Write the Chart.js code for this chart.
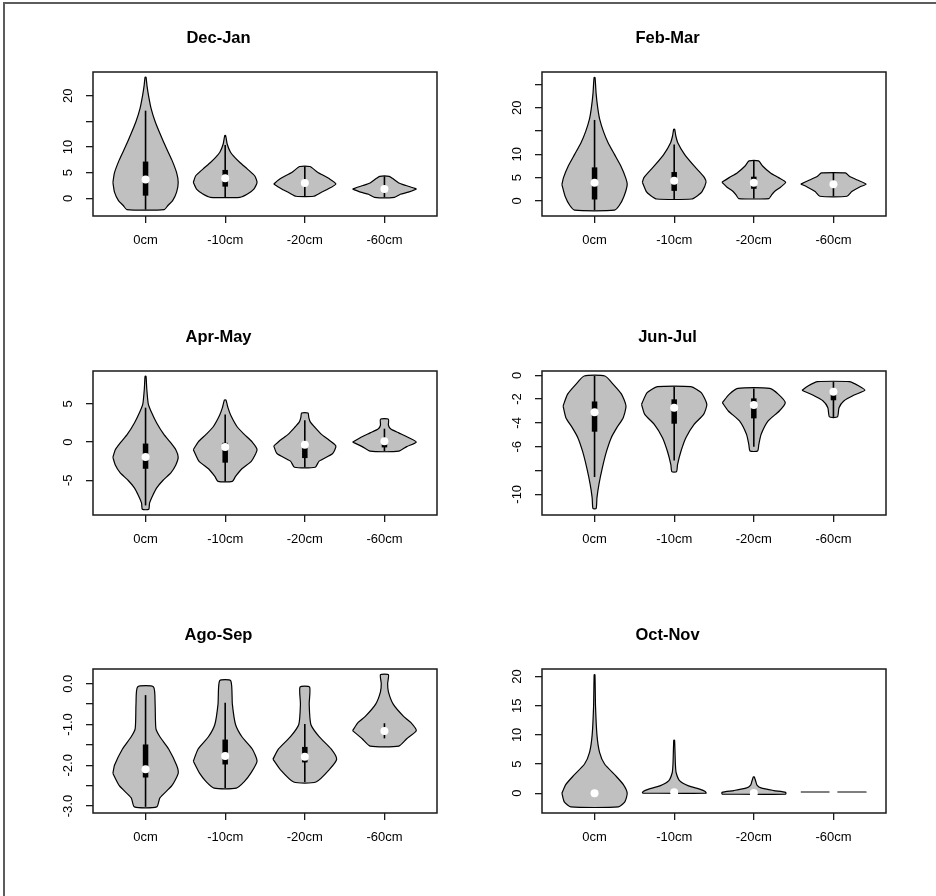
<!DOCTYPE html>
<html>
<head>
<meta charset="utf-8">
<script src="https://cdn.jsdelivr.net/npm/chart.js@4.4.1/dist/chart.umd.min.js"></script>
<style>
  html, body { margin: 0; padding: 0; background: #fff; }
  #page { position: relative; width: 936px; height: 896px; overflow: hidden; }
  #page .edge {
    position: absolute; left: 3px; top: 2px; right: 0; bottom: 0;
    border-top: 2px solid #5c5c5c; border-left: 2px solid #5c5c5c;
  }
  #page canvas { position: absolute; }
</style>
</head>
<body>
<div id="page"><div class="edge"></div></div>
<script>
const panelTitles = ['Dec-Jan', 'Feb-Mar', 'Apr-May', 'Jun-Jul', 'Ago-Sep', 'Oct-Nov'];
const depthLabels = ['0cm', '-10cm', '-20cm', '-60cm'];

// y axis limits and ticks for each panel
const yLimits = [[-3.45, 24.65], [-3.25, 27.7], [-9.55, 9.3], [-11.74, 0.36], [-3.17, 0.36], [-3.4, 21.3]];
const yTicks = [
    [0, 5, 10, 15, 20],
    [0, 5, 10, 15, 20, 25],
    [-5, 0, 5],
    [-10, -8, -6, -4, -2, 0],
    [-3, -2.5, -2, -1.5, -1, -0.5, 0],
    [0, 5, 10, 15, 20]
];
const yTickLabels = [
    ['0', '5', '10', '', '20'],
    ['0', '5', '10', '', '20', ''],
    ['-5', '0', '5'],
    ['-10', '', '-6', '-4', '-2', '0'],
    ['-3.0', '', '-2.0', '', '-1.0', '', '0.0'],
    ['0', '5', '10', '15', '20']
];

// box plot summary per panel, one value per depth
const medians = [
    [3.65, 3.9, 3.0, 1.8],
    [3.9, 4.3, 3.9, 3.6],
    [-1.97, -0.65, -0.34, 0.1],
    [-3.1, -2.72, -2.5, -1.38],
    [-2.1, -1.77, -1.79, -1.16],
    [0, 0.15, 0.05, 0.2]
];
const boxLow = [
    [0.52, 2.28, 2.5, 1.5],
    [0.3, 2.15, 2.6, 3.1],
    [-3.5, -2.7, -2.1, -0.7],
    [-4.74, -4.07, -3.62, -2.1],
    [-2.3, -1.98, -1.93, -1.22],
    [0, 0.15, 0.05, 0.2]
];
const boxHigh = [
    [7.17, 5.54, 3.5, 2.1],
    [7.2, 6.2, 5.2, 4.1],
    [-0.2, -0.1, -0.25, 0.3],
    [-2.2, -2.02, -1.94, -1.3],
    [-1.49, -1.37, -1.55, -1.1],
    [0, 0.15, 0.05, 0.2]
];
const whiskerLow = [
    [-2.2, 0.2, 0.4, 0.2],
    [-2.0, 0.4, 0.5, 1.0],
    [-8.3, -5.15, -3.3, -1.2],
    [-8.55, -7.15, -6.0, -3.5],
    [-3.02, -2.56, -2.41, -1.34],
    [0, 0.15, 0.05, 0.2]
];
const whiskerHigh = [
    [17.1, 10.4, 6.2, 4.3],
    [17.4, 12.1, 8.6, 6.0],
    [4.5, 3.6, 2.85, 1.75],
    [-0.06, -0.96, -1.1, -0.54],
    [-0.28, -0.47, -0.99, -0.97],
    [0, 0.15, 0.05, 0.2]
];

// density outlines: [value, half width] from bottom to top
const violinProfiles = [
    [ // Dec-Jan
        [[-2.2, 0.235], [-1.4, 0.28], [-0.45, 0.34], [1.2, 0.39], [3.1, 0.41], [5, 0.39], [7.5, 0.33], [10, 0.255], [12.5, 0.185], [15, 0.12], [17.5, 0.07], [20, 0.038], [22, 0.018], [23.65, 0.006]],
        [[0.2, 0.185], [0.85, 0.28], [1.8, 0.36], [3.1, 0.40], [4.4, 0.37], [5.7, 0.28], [7, 0.185], [8, 0.12], [9, 0.067], [10.6, 0.025], [12.25, 0.006]],
        [[0.4, 0.11], [1.1, 0.2], [1.8, 0.29], [2.8, 0.39], [3.8, 0.31], [5.1, 0.16], [6.2, 0.063]],
        [[0.2, 0.126], [0.8, 0.2], [1.2, 0.3], [1.8, 0.40], [2.2, 0.33], [2.5, 0.27], [3.0, 0.18], [3.9, 0.1], [4.3, 0.06]]
    ],
    [ // Feb-Mar
        [[-2, 0.25], [-1, 0.31], [1, 0.37], [3.5, 0.41], [5, 0.39], [7.5, 0.33], [10, 0.25], [12.5, 0.17], [15, 0.11], [17.5, 0.065], [20, 0.04], [23, 0.02], [26.5, 0.006]],
        [[0.4, 0.22], [1.2, 0.30], [2, 0.35], [4, 0.40], [5, 0.38], [6, 0.33], [7.5, 0.25], [10, 0.13], [12.5, 0.045], [14, 0.02], [15.4, 0.006]],
        [[0.5, 0.19], [1.2, 0.22], [2, 0.26], [3, 0.34], [4, 0.40], [5, 0.31], [6, 0.21], [7.5, 0.11], [8.6, 0.06]],
        [[1.0, 0.17], [2, 0.23], [3, 0.33], [3.6, 0.41], [4.5, 0.30], [5.3, 0.2], [6.0, 0.15]]
    ],
    [ // Apr-May
        [[-8.8, 0.04], [-8, 0.05], [-7, 0.09], [-6, 0.14], [-5, 0.22], [-4, 0.32], [-3, 0.38], [-2, 0.41], [-1, 0.38], [0, 0.31], [1, 0.23], [2.5, 0.14], [4, 0.07], [5, 0.034], [7, 0.015], [8.6, 0.006]],
        [[-5.15, 0.09], [-4.5, 0.13], [-3.5, 0.21], [-2.5, 0.33], [-1, 0.40], [0, 0.34], [1, 0.24], [2, 0.15], [3.5, 0.07], [4.5, 0.035], [5.5, 0.01]],
        [[-3.3, 0.13], [-2.5, 0.18], [-1.5, 0.35], [-0.5, 0.39], [0.3, 0.3], [1, 0.21], [2, 0.12], [2.6, 0.07], [3.2, 0.05], [3.8, 0.04]],
        [[-1.2, 0.18], [-0.6, 0.28], [0, 0.40], [0.6, 0.3], [1.2, 0.18], [1.7, 0.08], [2.2, 0.05], [3.0, 0.05]]
    ],
    [ // Jun-Jul
        [[-11.2, 0.02], [-10.3, 0.03], [-9.16, 0.055], [-7.8, 0.097], [-6.4, 0.15], [-5.24, 0.21], [-4.4, 0.28], [-3.56, 0.36], [-2.58, 0.395], [-1.6, 0.34], [-0.76, 0.235], [-0.06, 0.13]],
        [[-8.1, 0.03], [-7.5, 0.042], [-6.4, 0.084], [-5.24, 0.147], [-4.12, 0.25], [-3.28, 0.37], [-2.44, 0.41], [-1.46, 0.34], [-0.96, 0.21]],
        [[-6.36, 0.048], [-5.8, 0.063], [-4.96, 0.092], [-3.84, 0.18], [-3.0, 0.32], [-2.3, 0.395], [-1.6, 0.31], [-1.1, 0.2]],
        [[-3.5, 0.05], [-2.72, 0.07], [-2.16, 0.13], [-1.66, 0.26], [-1.26, 0.395], [-0.9, 0.32], [-0.54, 0.2]]
    ],
    [ // Ago-Sep
        [[-3.02, 0.14], [-2.8, 0.18], [-2.5, 0.33], [-2.2, 0.41], [-2.0, 0.39], [-1.6, 0.29], [-1.3, 0.18], [-1.1, 0.13], [-0.5, 0.12], [-0.08, 0.10]],
        [[-2.56, 0.14], [-2.4, 0.24], [-2.2, 0.32], [-1.9, 0.40], [-1.6, 0.34], [-1.3, 0.21], [-1.0, 0.13], [-0.5, 0.09], [0.07, 0.07]],
        [[-2.41, 0.14], [-2.1, 0.31], [-1.85, 0.40], [-1.6, 0.33], [-1.3, 0.18], [-1.0, 0.076], [-0.5, 0.055], [-0.08, 0.06]],
        [[-1.53, 0.18], [-1.35, 0.28], [-1.15, 0.40], [-0.95, 0.33], [-0.8, 0.24], [-0.5, 0.11], [-0.2, 0.05], [0, 0.04], [0.22, 0.05]]
    ],
    [ // Oct-Nov
        [[-2.35, 0.30], [-1.5, 0.38], [0, 0.41], [1.5, 0.36], [3, 0.265], [5, 0.126], [7, 0.063], [10, 0.03], [15, 0.012], [20.3, 0.005]],
        [[0, 0.40], [0.3, 0.39], [0.7, 0.32], [1.25, 0.18], [2.1, 0.07], [3.5, 0.025], [5, 0.015], [9.1, 0.005]],
        [[-0.17, 0.40], [0.15, 0.40], [0.45, 0.25], [0.9, 0.09], [1.4, 0.04], [2, 0.025], [2.8, 0.006]],
        [[0.2, 0.41], [0.2, 0.41]]
    ]
];

const FONT = '"Liberation Sans", Arial, Helvetica, sans-serif';
const VIOLIN_FILL = '#c0c0c0';
const INK = '#1a1a1a';
const CURVE_TENSION = 0.2;
const CANVAS_W = 449, CANVAS_H = 298;
const rowTops = [0, 299, 597];

function widestIndex(profile) {
    let m = 0;
    profile.forEach(([, w], i) => { if (w > profile[m][1]) m = i; });
    return m;
}

// closed loop starting and ending at the widest left point:
// up the left side, down the right side, back up the left side
function outlinePath(profile, c) {
    const left = profile.map(([v, w]) => ({x: c - w, y: v}));
    const right = profile.map(([v, w]) => ({x: c + w, y: v}));
    const m = widestIndex(profile);
    return [...left.slice(m), ...right.slice().reverse(), ...left.slice(0, m + 1)];
}

// same loop plus a hop to the widest right point, so the filler's
// x clip spans the whole violin (repeated point keeps the curve identical)
function fillPath(profile, c) {
    const loop = outlinePath(profile, c);
    const m = widestIndex(profile);
    const [v, w] = profile[m];
    return [...loop, loop[loop.length - 1], {x: c + w, y: v}];
}

// frame around the plot region and rotated y tick labels
const framePlugin = {
    id: 'frameAndLabels',
    afterDraw(chart, args, opts) {
        const {ctx, chartArea} = chart;
        const yScale = chart.scales.y;
        ctx.save();
        ctx.strokeStyle = INK;
        ctx.lineWidth = 1.5;
        ctx.strokeRect(chartArea.left, chartArea.top, chartArea.right - chartArea.left, chartArea.bottom - chartArea.top);

        ctx.fillStyle = '#000';
        ctx.font = '13px ' + FONT;
        ctx.textAlign = 'center';
        ctx.textBaseline = 'middle';
        opts.values.forEach((v, i) => {
            const label = opts.labels[i];
            if (!label) return;
            ctx.save();
            ctx.translate(chartArea.left - 24.5, yScale.getPixelForValue(v));
            ctx.rotate(-Math.PI / 2);
            ctx.fillText(label, 0, 0);
            ctx.restore();
        });
        ctx.restore();
    }
};

function buildPanel(p) {
    const canvas = document.createElement('canvas');
    canvas.width = CANVAS_W;
    canvas.height = CANVAS_H;
    canvas.style.left = (p % 2) * CANVAS_W + 'px';
    canvas.style.top = rowTops[Math.floor(p / 2)] + 'px';
    document.getElementById('page').appendChild(canvas);

    const datasets = [];
    depthLabels.forEach((name, d) => {
        const c = d + 1;
        const profile = violinProfiles[p][d];
        datasets.push({
            data: fillPath(profile, c),
            fill: 'shape',
            backgroundColor: VIOLIN_FILL,
            borderColor: 'rgba(0,0,0,0)',
            borderWidth: 0,
            tension: CURVE_TENSION,
            pointRadius: 0,
            order: 5
        });
        datasets.push({
            data: outlinePath(profile, c),
            fill: false,
            borderColor: '#000',
            borderWidth: 1.2,
            borderJoinStyle: 'round',
            tension: CURVE_TENSION,
            pointRadius: 0,
            order: 4
        });
        datasets.push({
            data: [{x: c, y: whiskerLow[p][d]}, {x: c, y: whiskerHigh[p][d]}],
            fill: false,
            borderColor: '#000',
            borderWidth: 1.6,
            pointRadius: 0,
            order: 3
        });
        datasets.push({
            data: [{x: c, y: boxLow[p][d]}, {x: c, y: boxHigh[p][d]}],
            fill: false,
            borderColor: '#000',
            borderWidth: 5.5,
            borderCapStyle: 'butt',
            pointRadius: 0,
            order: 2
        });
    });
    datasets.push({
        data: medians[p].map((m, d) => ({x: d + 1, y: m})),
        showLine: false,
        pointRadius: 4,
        pointBackgroundColor: '#fff',
        pointBorderColor: '#fff',
        pointBorderWidth: 0,
        order: 1
    });

    new Chart(canvas, {
        type: 'line',
        data: {datasets},
        options: {
            responsive: false,
            animation: false,
            events: [],
            layout: {padding: {left: 0, right: 12, top: 0, bottom: 0}},
            scales: {
                x: {
                    type: 'linear',
                    min: 0.34,
                    max: 4.66,
                    afterBuildTicks: (axis) => {
                        axis.ticks = depthLabels.map((_, i) => ({value: i + 1}));
                    },
                    afterFit: (axis) => { axis.height = 82; },
                    grid: {drawOnChartArea: false, drawTicks: true, tickLength: 7, color: INK, lineWidth: 1.3},
                    border: {display: false},
                    ticks: {
                        autoSkip: false,
                        maxRotation: 0,
                        padding: 10,
                        color: '#000',
                        font: {family: FONT, size: 13},
                        callback: (v) => depthLabels[Math.round(v) - 1]
                    }
                },
                y: {
                    type: 'linear',
                    min: yLimits[p][0],
                    max: yLimits[p][1],
                    afterBuildTicks: (axis) => {
                        axis.ticks = yTicks[p].map(v => ({value: v}));
                    },
                    afterFit: (axis) => { axis.width = 93; },
                    grid: {drawOnChartArea: false, drawTicks: true, tickLength: 7, color: INK, lineWidth: 1.3},
                    border: {display: false},
                    ticks: {display: false}
                }
            },
            plugins: {
                legend: {display: false},
                tooltip: {enabled: false},
                title: {
                    display: true,
                    text: panelTitles[p],
                    color: '#000',
                    font: {family: FONT, size: 16.5, weight: 'bold', lineHeight: 1.2},
                    padding: {top: 28.5, bottom: 23.7}
                },
                frameAndLabels: {values: yTicks[p], labels: yTickLabels[p]}
            }
        },
        plugins: [framePlugin]
    });
}

panelTitles.forEach((_, p) => buildPanel(p));
</script>
</body>
</html>
